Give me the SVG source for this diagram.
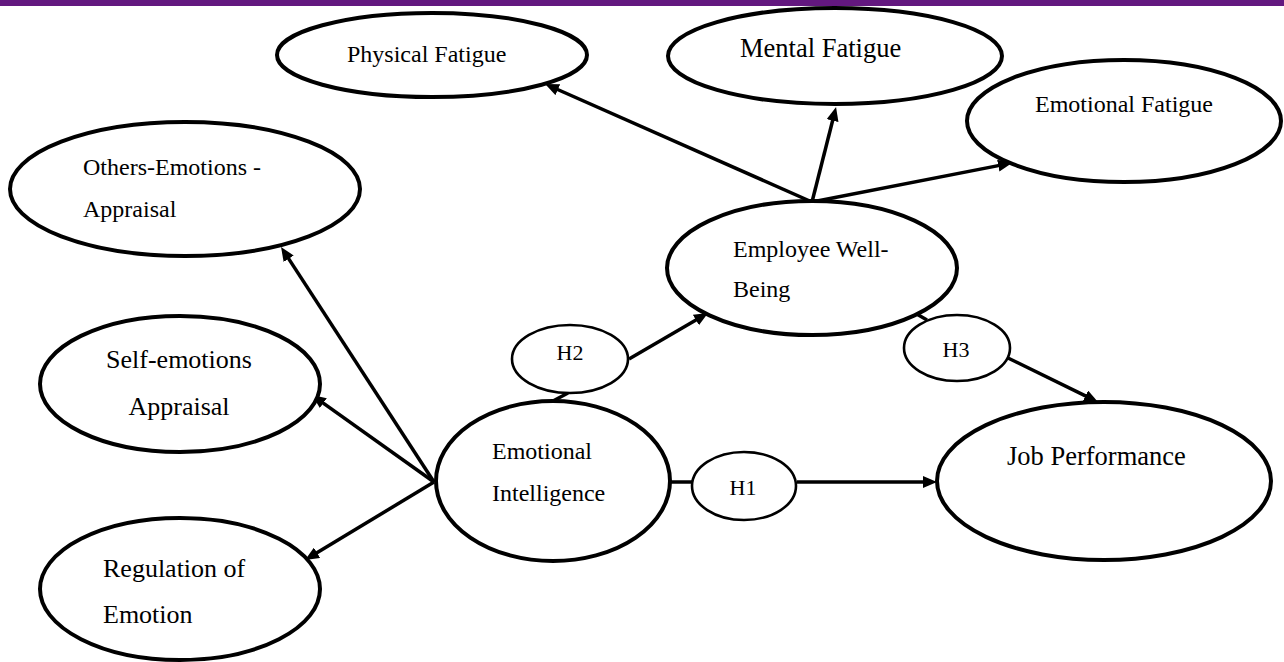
<svg xmlns="http://www.w3.org/2000/svg" width="1284" height="662" viewBox="0 0 1284 662">
<style>
.n{fill:#fff;stroke:#000;stroke-width:4}
.h{fill:#fff;stroke:#000;stroke-width:2.6}
.t{font-family:"Liberation Serif","Times New Roman",serif;fill:#000}
.c line{stroke:#000;stroke-width:3.5}
</style>
<defs>
<marker id="ah" viewBox="0 0 14 12" refX="4" refY="6" markerWidth="14" markerHeight="12" markerUnits="userSpaceOnUse" orient="auto">
<path d="M0,0 L14,6 L0,12 z" fill="#000"/>
</marker>
</defs>
<rect x="0" y="0" width="1284" height="6" fill="#63187f"/>
<g class="c" id="connectors">
<line x1="812" y1="202" x2="554.2" y2="88" marker-end="url(#ah)"/>
<line x1="812" y1="202" x2="833.6" y2="116.7" marker-end="url(#ah)"/>
<line x1="812" y1="202" x2="1002.2" y2="164.9" marker-end="url(#ah)"/>
<line x1="434" y1="482" x2="286.5" y2="255.4" marker-end="url(#ah)"/>
<line x1="434" y1="482" x2="320.1" y2="400.8" marker-end="url(#ah)"/>
<line x1="434" y1="482" x2="313.6" y2="554.8" marker-end="url(#ah)"/>
<line x1="629" y1="359" x2="699.4" y2="318" marker-end="url(#ah)"/>
<line x1="797" y1="482" x2="927" y2="482" marker-end="url(#ah)"/>
<line x1="1008" y1="358" x2="1089" y2="397.6" marker-end="url(#ah)"/>
<line x1="553" y1="401" x2="568" y2="393"/>
<line x1="670" y1="482" x2="692" y2="482"/>
<line x1="915" y1="313" x2="927" y2="320"/>
</g>
<g id="physical-fatigue">
<ellipse class="n" cx="432" cy="55" rx="155" ry="42"/>
<text class="t" x="347" y="62" font-size="24">Physical Fatigue</text>
</g>
<g id="mental-fatigue">
<ellipse class="n" cx="835" cy="56" rx="167" ry="48"/>
<text class="t" x="740" y="57" font-size="26.5">Mental Fatigue</text>
</g>
<g id="emotional-fatigue">
<ellipse class="n" cx="1124" cy="121" rx="157" ry="61"/>
<text class="t" x="1035" y="112" font-size="24">Emotional Fatigue</text>
</g>
<g id="others-emotions-appraisal">
<ellipse class="n" cx="185" cy="189" rx="175" ry="67"/>
<text class="t" x="83" y="175" font-size="24">Others-Emotions -</text>
<text class="t" x="83" y="217" font-size="24">Appraisal</text>
</g>
<g id="employee-well-being">
<ellipse class="n" cx="812" cy="268" rx="145" ry="67"/>
<text class="t" x="733" y="257" font-size="24">Employee Well-</text>
<text class="t" x="733" y="297" font-size="24">Being</text>
</g>
<g id="self-emotions-appraisal">
<ellipse class="n" cx="180" cy="384" rx="140" ry="68"/>
<text class="t" x="179" y="368" font-size="26" text-anchor="middle">Self-emotions</text>
<text class="t" x="179" y="415" font-size="26" text-anchor="middle">Appraisal</text>
</g>
<g id="h2">
<ellipse class="h" cx="570" cy="359" rx="58" ry="34"/>
<text class="t" x="570" y="360" font-size="22" text-anchor="middle">H2</text>
</g>
<g id="h3">
<ellipse class="h" cx="957" cy="348" rx="53" ry="33"/>
<text class="t" x="956" y="357" font-size="22" text-anchor="middle">H3</text>
</g>
<g id="emotional-intelligence">
<ellipse class="n" cx="553" cy="481" rx="117" ry="80"/>
<text class="t" x="492" y="459" font-size="24">Emotional</text>
<text class="t" x="492" y="501" font-size="24">Intelligence</text>
</g>
<g id="h1">
<ellipse class="h" cx="744" cy="486" rx="52" ry="34"/>
<text class="t" x="743" y="495" font-size="22" text-anchor="middle">H1</text>
</g>
<g id="job-performance">
<ellipse class="n" cx="1104" cy="481" rx="167" ry="79"/>
<text class="t" x="1007" y="465" font-size="26.5">Job Performance</text>
</g>
<g id="regulation-of-emotion">
<ellipse class="n" cx="180" cy="589" rx="140" ry="71"/>
<text class="t" x="103" y="577" font-size="26">Regulation of</text>
<text class="t" x="103" y="623" font-size="26">Emotion</text>
</g>
</svg>
